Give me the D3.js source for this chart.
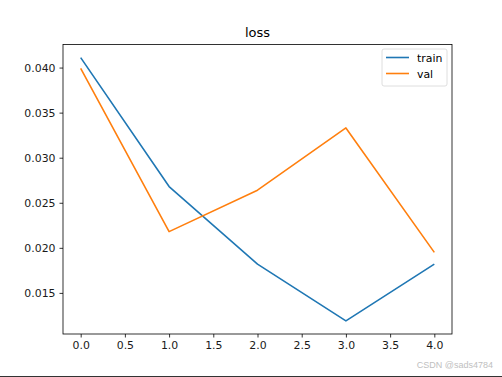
<!DOCTYPE html>
<html>
<head>
<meta charset="utf-8">
<script src="https://cdn.jsdelivr.net/npm/d3@7"></script>
<style>
  body { margin: 0; background: #fff; }
  svg { display: block; font-family: "DejaVu Sans", sans-serif; }
</style>
</head>
<body>
<svg id="chart" width="502" height="377"></svg>
<script>
// epochs and loss values
const epochs = [0, 1, 2, 3, 4];
const trainLoss = [0.0411, 0.0268, 0.0182, 0.0119, 0.0182];
const valLoss = [0.0399, 0.0218, 0.0264, 0.0333, 0.0195];
const xTicks = [0, 0.5, 1, 1.5, 2, 2.5, 3, 3.5, 4];
const yTicks = [0.015, 0.020, 0.025, 0.030, 0.035, 0.040];

const series = [
    { name: 'train', values: trainLoss, color: '#1f77b4' },
    { name: 'val', values: valLoss, color: '#ff7f0e' }
];

const svg = d3.select('#chart');
// plot area edges (renamed: "top" clashes with window.top)
const plotL = 63, plotR = 452, plotT = 44.5, plotB = 334;

// matplotlib style 5% margins
const xMin = d3.min(epochs), xMax = d3.max(epochs);
const xPad = (xMax - xMin) * 0.05;
const scX = d3.scaleLinear().domain([xMin - xPad, xMax + xPad]).range([plotL, plotR]);

const allVals = trainLoss.concat(valLoss);
const yMin = d3.min(allVals), yMax = d3.max(allVals);
const yPad = (yMax - yMin) * 0.05;
const scY = d3.scaleLinear().domain([yMin - yPad, yMax + yPad]).range([plotB, plotT]);

// axes
const xAxis = svg.append('g')
    .attr('transform', `translate(0,${plotB})`)
    .call(d3.axisBottom(scX).tickValues(xTicks).tickFormat(d3.format('.1f')).tickSizeOuter(0).tickSize(3.5).tickPadding(4));
const yAxis = svg.append('g')
    .attr('transform', `translate(${plotL},0)`)
    .call(d3.axisLeft(scY).tickValues(yTicks).tickFormat(d3.format('.3f')).tickSizeOuter(0).tickSize(3.5).tickPadding(4));

[xAxis, yAxis].forEach(a => {
    a.select('.domain').remove();
    a.selectAll('text').attr('font-size', 10.9).attr('fill', '#1a1a1a').attr('font-family', '"DejaVu Sans", sans-serif');
    a.selectAll('line').attr('stroke', '#000').attr('stroke-width', 0.8);
});

// lines
const lineMaker = d3.line()
    .x((d, i) => scX(epochs[i]))
    .y(d => scY(d));

svg.append('g').selectAll('path')
    .data(series)
    .enter()
    .append('path')
    .attr('fill', 'none')
    .attr('stroke', d => d.color)
    .attr('stroke-width', 1.6)
    .attr('stroke-linejoin', 'round')
    .attr('d', d => lineMaker(d.values));

// frame
svg.append('rect')
    .attr('x', plotL).attr('y', plotT)
    .attr('width', plotR - plotL).attr('height', plotB - plotT)
    .attr('fill', 'none').attr('stroke', '#000').attr('stroke-width', 0.8);

// title
svg.append('text')
    .attr('x', (plotL + plotR) / 2).attr('y', 37)
    .attr('text-anchor', 'middle')
    .attr('font-size', 13)
    .text('loss');

// legend
const lg = svg.append('g').attr('transform', 'translate(382,49)');
lg.append('rect')
    .attr('width', 65).attr('height', 37).attr('rx', 2)
    .attr('fill', '#fff').attr('fill-opacity', 0.8)
    .attr('stroke', '#d6d6d6').attr('stroke-width', 0.8);
const items = lg.selectAll('g.item')
    .data(series)
    .enter()
    .append('g')
    .attr('transform', (d, i) => `translate(0,${8.5 + i * 16})`);
items.append('line')
    .attr('x1', 4).attr('x2', 27)
    .attr('stroke', d => d.color).attr('stroke-width', 1.6);
items.append('text')
    .attr('x', 35).attr('y', 4)
    .attr('font-size', 10.9)
    .text(d => d.name);

// page line and watermark
svg.append('line')
    .attr('x1', 0).attr('x2', 502).attr('y1', 376.5).attr('y2', 376.5)
    .attr('stroke', '#333').attr('stroke-width', 1);
svg.append('text')
    .attr('x', 493).attr('y', 368)
    .attr('text-anchor', 'end')
    .attr('font-family', 'Arial, "Liberation Sans", sans-serif')
    .attr('font-size', 9)
    .attr('fill', '#c0c0c0')
    .text('CSDN @sads4784');
</script>
</body>
</html>
